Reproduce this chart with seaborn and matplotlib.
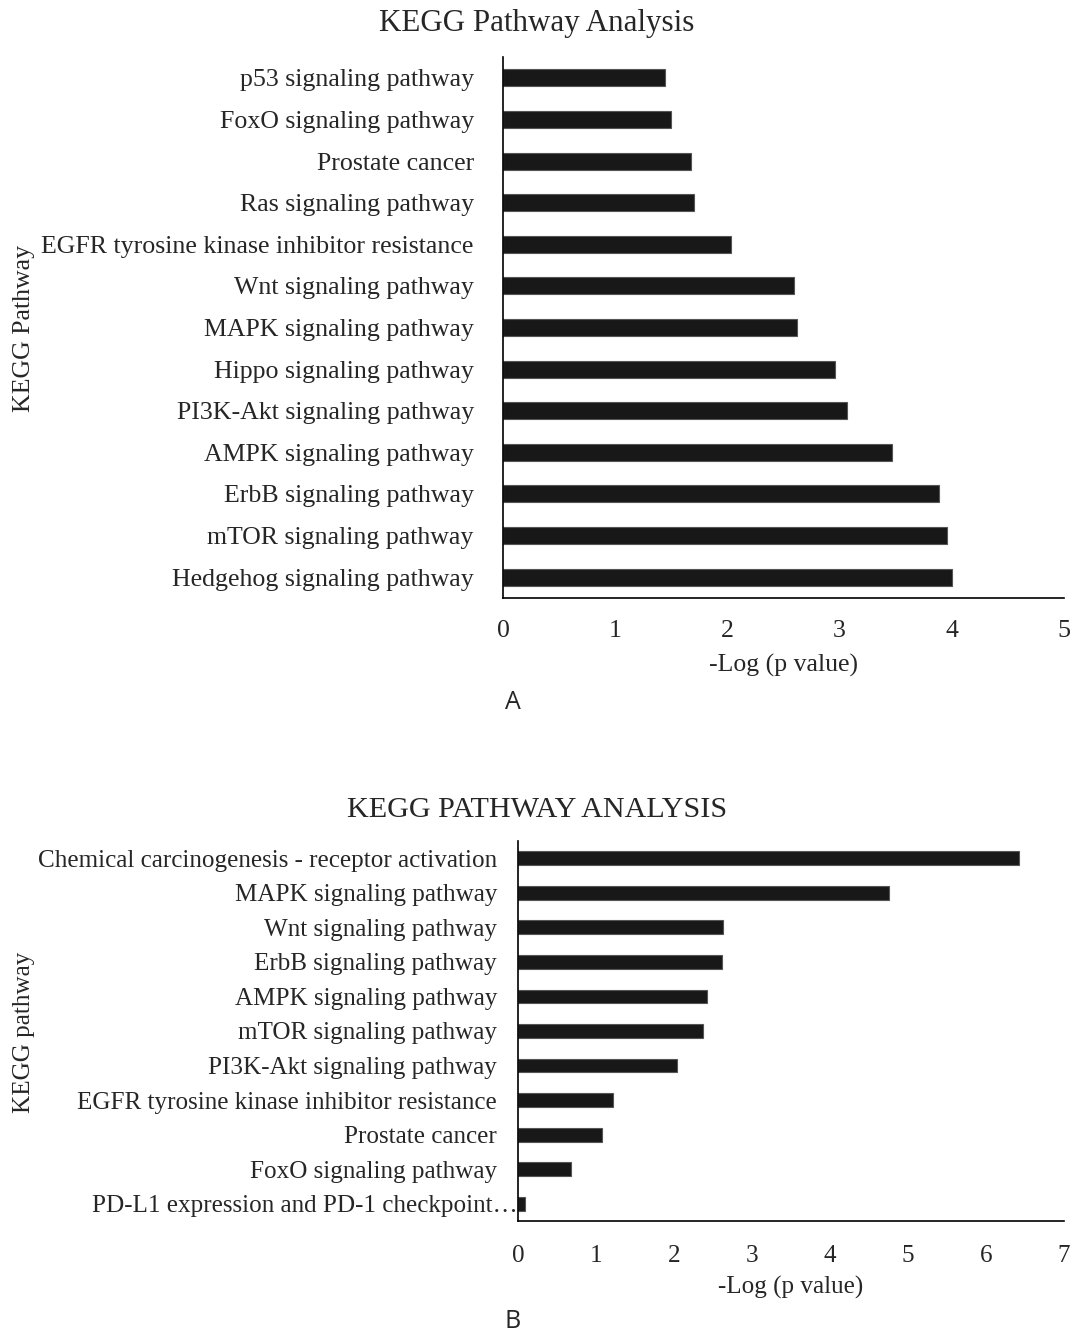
import matplotlib
matplotlib.use("Agg")
import matplotlib.pyplot as plt
from matplotlib.transforms import ScaledTranslation
import seaborn as sns
import pandas as pd

# Panel A data
pathways_a = ["p53 signaling pathway", "FoxO signaling pathway", "Prostate cancer",
              "Ras signaling pathway", "EGFR tyrosine kinase inhibitor resistance",
              "Wnt signaling pathway", "MAPK signaling pathway", "Hippo signaling pathway",
              "PI3K-Akt signaling pathway", "AMPK signaling pathway", "ErbB signaling pathway",
              "mTOR signaling pathway", "Hedgehog signaling pathway"]
values_a = [1.44, 1.50, 1.68, 1.70, 2.03, 2.59, 2.62, 2.96, 3.07, 3.47, 3.89, 3.96, 4.00]
xticks_a = [0, 1, 2, 3, 4, 5]

# Panel B data
pathways_b = ["Chemical carcinogenesis - receptor activation", "MAPK signaling pathway",
              "Wnt signaling pathway", "ErbB signaling pathway", "AMPK signaling pathway",
              "mTOR signaling pathway", "PI3K-Akt signaling pathway",
              "EGFR tyrosine kinase inhibitor resistance", "Prostate cancer",
              "FoxO signaling pathway", "PD-L1 expression and PD-1 checkpoint\u2026"]
values_b = [6.42, 4.76, 2.63, 2.61, 2.42, 2.37, 2.04, 1.22, 1.08, 0.68, 0.09]
xticks_b = [0, 1, 2, 3, 4, 5, 6, 7]

sns.set_style("white")
plt.rcParams['font.family'] = ['Liberation Serif', 'DejaVu Serif']

W, H = 1073, 1334
fig = plt.figure(figsize=(W / 100, H / 100), dpi=100)
bar_color = "#181818"

def px_axes(left, top, right, bottom):
    return fig.add_axes([left / W, 1 - bottom / H, (right - left) / W, (bottom - top) / H])

def style(ax, ticks, fs, xpad, ypad):
    ax.set_xlim(ticks[0], ticks[-1])
    ax.set_xticks(ticks)
    ax.set_xticklabels([str(t) for t in ticks])
    ax.tick_params(axis='x', length=0, pad=xpad, labelsize=fs)
    ax.tick_params(axis='y', length=0, pad=ypad, labelsize=fs)
    for s in ["top", "right"]:
        ax.spines[s].set_visible(False)
    for s in ["left", "bottom"]:
        ax.spines[s].set_color("black")
        ax.spines[s].set_linewidth(1.2)
    ax.set_ylabel("")
    ax.grid(False)

# Panel A
df_a = pd.DataFrame({"pathway": pathways_a, "value": values_a})
ax1 = px_axes(503, 57, 1064, 598)
sns.barplot(data=df_a, x="value", y="pathway", orient="h", color=bar_color,
            width=0.41, edgecolor="#555555", linewidth=0.8, saturation=1, ax=ax1)
style(ax1, xticks_a, 18.6, 16, 21)
ax1.set_xlabel("-Log (p value)", fontsize=18.5, labelpad=8.5)
fig.text(537 / W, 1 - 23 / H, "KEGG Pathway Analysis", ha="center", va="center", fontsize=22.3)
fig.text(24 / W, 1 - 328 / H, "KEGG Pathway", ha="center", va="center", rotation=90, fontsize=18.6)
fig.text(513 / W, 1 - 702 / H, "A", ha="center", va="center", fontsize=18,
         family=["Open Sans", "DejaVu Sans"])

# Panel B
df_b = pd.DataFrame({"pathway": pathways_b, "value": values_b})
ax2 = px_axes(518, 841, 1064, 1221)
sns.barplot(data=df_b, x="value", y="pathway", orient="h", color=bar_color,
            width=0.40, edgecolor="#555555", linewidth=0.8, saturation=1, ax=ax2)
style(ax2, xticks_b, 18.1, 17, 15)
ax2.set_xlabel("-Log (p value)", fontsize=18.1, labelpad=7)
# truncated last label sits right against the axis, as in the source chart
last = ax2.get_yticklabels()[-1]
last.set_transform(last.get_transform() + ScaledTranslation(20 / 100, 0, fig.dpi_scale_trans))
fig.text(537 / W, 1 - 810 / H, "KEGG PATHWAY ANALYSIS", ha="center", va="center", fontsize=21.7)
fig.text(24 / W, 1 - 1032 / H, "KEGG pathway", ha="center", va="center", rotation=90, fontsize=18.1)
fig.text(513 / W, 1 - 1322 / H, "B", ha="center", va="center", fontsize=18,
         family=["Open Sans", "DejaVu Sans"])

fig.savefig("out.png", dpi=100)
